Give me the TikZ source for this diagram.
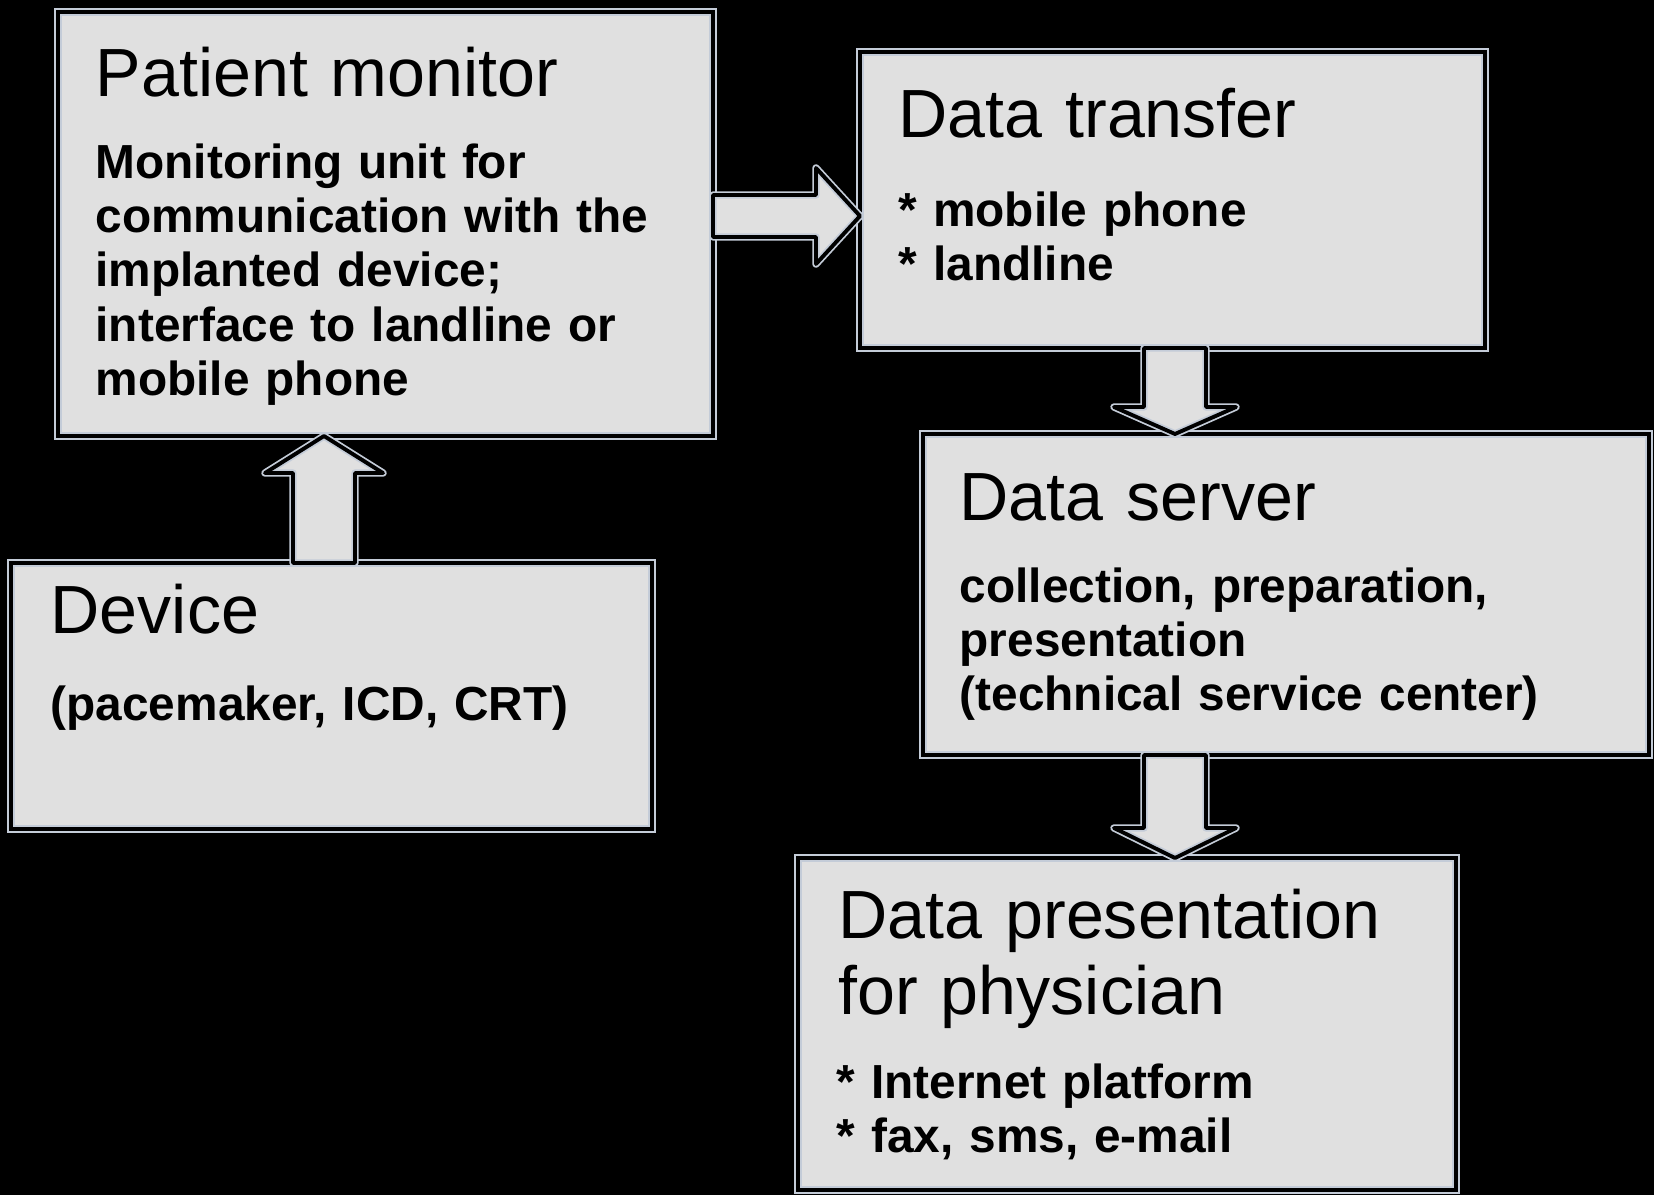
\documentclass[tikz,border=0pt]{standalone}
\usepackage{fontspec}
\setmainfont{Liberation Sans}
\usetikzlibrary{positioning, calc}
\definecolor{boxfill}{HTML}{E0E0E0}
\definecolor{boxedge}{HTML}{C4CCD8}

\begin{document}
\begin{tikzpicture}[
    % Box around each stage
    stagebox/.style={
      rectangle, draw=boxedge, line width=0.5pt,
      double=black, double distance=1.1pt,
      fill=boxfill, inner sep=0pt, outer sep=0pt,
      anchor=north west
    },
    % Title of a stage
    titletext/.style={
      anchor=base west, inner sep=0pt,
      font=\fontsize{19.4}{21.9}\selectfont,
      text width=8cm, align=left
    },
    % Body text of a stage
    bodytext/.style={
      anchor=base west, inner sep=0pt,
      font=\fontsize{13.6}{15.5}\selectfont\bfseries,
      text width=8cm, align=left
    },
    % Block arrow between stages
    blockarr/.style={
      draw=boxedge, line width=0.5pt,
      double=black, double distance=1.1pt,
      fill=boxfill, line join=round
    }
  ]

  % ============ Background ============
  \fill[black] (0,0) rectangle (16.54,-11.95);
  \useasboundingbox (0,0) rectangle (16.54,-11.95);

  % ============ Stages ============
  \node[stagebox, minimum width=6.55cm, minimum height=4.24cm] (monitor) at (0.58,-0.12) {};
  \node[stagebox, minimum width=6.25cm, minimum height=2.96cm,
    below right=0.40cm and 1.47cm of monitor.north east] (transfer) {};
  \node[stagebox, minimum width=7.26cm, minimum height=3.21cm,
    below right=0.86cm and 0.63cm of transfer.south west] (server) {};
  \node[stagebox, minimum width=6.41cm, minimum height=2.66cm,
    below right=1.27cm and -0.47cm of monitor.south west] (device) {};
  \node[stagebox, minimum width=6.58cm, minimum height=3.32cm,
    below right=1.03cm and -1.25cm of server.south west] (present) {};

  % ============ Texts ============
  \node[titletext] (monitortitle) at ([shift={(0.37,-0.85)}]monitor.north west) {Patient monitor};
  \node[bodytext] (monitorbody) at ([shift={(0.37,-1.66)}]monitor.north west)
    {Monitoring unit for\\communication with the\\implanted device;\\interface to landline or\\mobile phone};

  \node[titletext] (transfertitle) at ([shift={(0.38,-0.86)}]transfer.north west) {Data transfer};
  \node[bodytext] (transferbody) at ([shift={(0.38,-1.74)}]transfer.north west)
    {{*} mobile phone\\{*} landline};

  \node[titletext] (servertitle) at ([shift={(0.36,-0.86)}]server.north west) {Data server};
  \node[bodytext] (serverbody) at ([shift={(0.36,-1.68)}]server.north west)
    {collection, preparation,\\presentation\\(technical service center)};

  \node[titletext] (devicetitle) at ([shift={(0.39,-0.70)}]device.north west) {Device};
  \node[bodytext] (devicebody) at ([shift={(0.39,-1.57)}]device.north west)
    {(pacemaker, ICD, CRT)};

  \node[titletext] (presenttitle) at ([shift={(0.40,-0.80)}]present.north west)
    {Data presentation\\for physician};
  \node[bodytext] (presentbody) at ([shift={(0.38,-2.40)}]present.north west)
    {{*} Internet platform\\{*} fax, sms, e-mail};

  % ============ Arrow: device -> monitor ============
  \coordinate (upx) at ([xshift=3.13cm]device.north west);
  \draw[blockarr] let \p1 = (upx), \p2 = (upx |- monitor.south) in
    ({\x1-0.31cm},\y1) -- ({\x1-0.31cm},{\y2-0.37cm}) -- ({\x1-0.59cm},{\y2-0.37cm})
    -- (\p2) -- ({\x1+0.59cm},{\y2-0.37cm}) -- ({\x1+0.31cm},{\y2-0.37cm})
    -- ({\x1+0.31cm},\y1) -- cycle;

  % ============ Arrow: monitor -> transfer ============
  \coordinate (rgty) at ([yshift=-2.04cm]monitor.north east);
  \draw[blockarr] let \p1 = (rgty), \p2 = (rgty -| transfer.west) in
    (\x1,{\y1+0.21cm}) -- ({\x2-0.44cm},{\y1+0.21cm}) -- ({\x2-0.44cm},{\y1+0.48cm})
    -- (\p2) -- ({\x2-0.44cm},{\y1-0.48cm}) -- ({\x2-0.44cm},{\y1-0.21cm})
    -- (\x1,{\y1-0.21cm}) -- cycle;

  % ============ Arrow: transfer -> server ============
  \coordinate (dnx) at ([xshift=3.15cm]transfer.south west);
  \draw[blockarr] let \p1 = (dnx), \p2 = (dnx |- server.north) in
    ({\x1-0.31cm},\y1) -- ({\x1-0.31cm},{\y2+0.27cm}) -- ({\x1-0.61cm},{\y2+0.27cm})
    -- (\p2) -- ({\x1+0.61cm},{\y2+0.27cm}) -- ({\x1+0.31cm},{\y2+0.27cm})
    -- ({\x1+0.31cm},\y1) -- cycle;

  % ============ Arrow: server -> presentation ============
  \draw[blockarr] let \p1 = (dnx |- server.south), \p2 = (dnx |- present.north) in
    ({\x1-0.31cm},\y1) -- ({\x1-0.31cm},{\y2+0.30cm}) -- ({\x1-0.61cm},{\y2+0.30cm})
    -- (\p2) -- ({\x1+0.61cm},{\y2+0.30cm}) -- ({\x1+0.31cm},{\y2+0.30cm})
    -- ({\x1+0.31cm},\y1) -- cycle;

\end{tikzpicture}
\end{document}
